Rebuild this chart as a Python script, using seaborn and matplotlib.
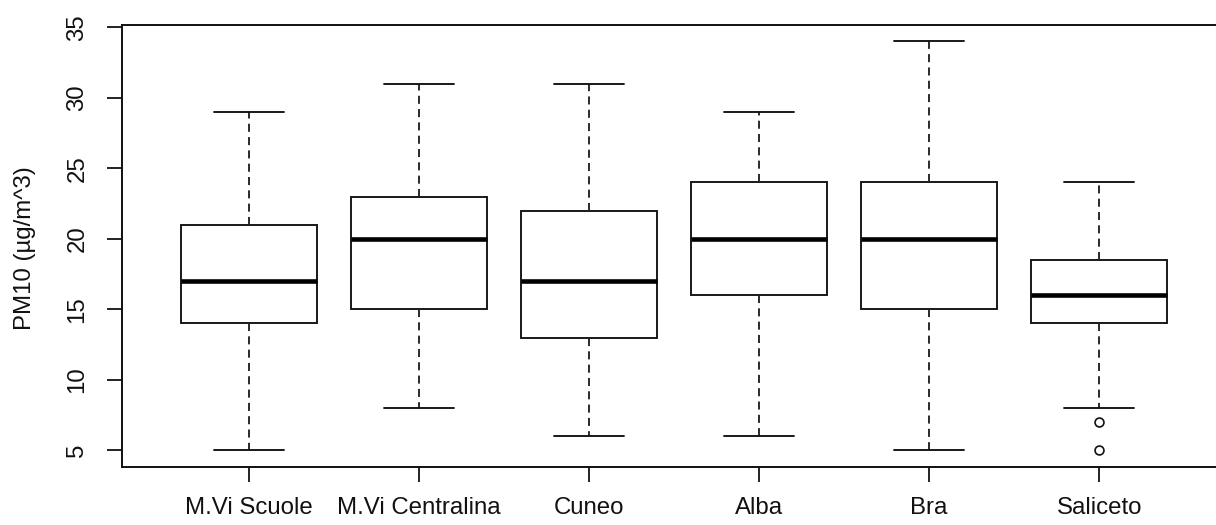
import numpy as np
import pandas as pd
import matplotlib
matplotlib.use("Agg")
import matplotlib.pyplot as plt
import seaborn as sns

# Five-number summaries
stations = ["M.Vi Scuole", "M.Vi Centralina", "Cuneo", "Alba", "Bra", "Saliceto"]
whisker_low = [5, 8, 6, 6, 5, 8]
q1 = [14, 15, 13, 16, 15, 14]
median = [17, 20, 17, 20, 20, 16]
q3 = [21, 23, 22, 24, 24, 18.5]
whisker_high = [29, 31, 31, 29, 34, 24]
outliers = [[], [], [], [], [], [7, 5]]
yticks = [5, 10, 15, 20, 25, 30, 35]
ylabel = "PM10 (µg/m^3)"

# Build a sample per station whose quartiles / whiskers reproduce the summaries
rows = []
for s, lo, a, m, b, hi, out in zip(stations, whisker_low, q1, median, q3,
                                    whisker_high, outliers):
    k = len(out) + 1
    vals = sorted(out) + [lo] + [a] * k + [m] * k + [b] * k
    vals = vals[:4 * k] + [hi]
    for v in vals:
        rows.append({"station": s, "pm10": v})
df = pd.DataFrame(rows)

sns.set_style("white")
plt.rcParams["font.family"] = ["Liberation Sans", "DejaVu Sans"]

W, H = 1216, 525
fig = plt.figure(figsize=(W / 100, H / 100), dpi=100)
left, right, top, bottom = 122, 1226, 24.5, 467
ax = fig.add_axes([left / W, (H - bottom) / H, (right - left) / W, (bottom - top) / H])

sns.boxplot(
    data=df, x="station", y="pm10", order=stations, ax=ax,
    color="white", linecolor="#111111", linewidth=1.35, width=0.8, whis=1.5,
    medianprops={"linewidth": 3.3, "color": "black"},
    whiskerprops={"linestyle": (0, (4.3, 2.8)), "color": "#222222"},
    capprops={"color": "#111111"},
    flierprops={"marker": "o", "markerfacecolor": "none",
                "markeredgecolor": "#111111", "markeredgewidth": 1.2,
                "markersize": 6.4},
    capwidths=0.41,
)

ax.set_xlim(-0.745, 5.745)
ax.set_ylim(3.82, 35.2)
ax.set_yticks(yticks)
ax.set_xlabel("")
ax.set_ylabel(ylabel, fontsize=17.3, color="#111111", va="bottom")
ax.yaxis.set_label_coords((36 - left) / (right - left), 0.495)

for sp in ax.spines.values():
    sp.set_visible(True)
    sp.set_color("#111111")
    sp.set_linewidth(1.4)

ax.tick_params(axis="both", which="major", direction="out", length=10.8,
               width=1.3, color="#111111", labelsize=17.3, labelcolor="#111111",
               left=True, bottom=True)
ax.tick_params(axis="y", pad=13.5)
ax.tick_params(axis="x", pad=11)
for lab in ax.get_yticklabels():
    lab.set_rotation(90)
    lab.set_va("center")
    lab.set_ha("right")

fig.savefig("out.png", dpi=100, facecolor="white")
